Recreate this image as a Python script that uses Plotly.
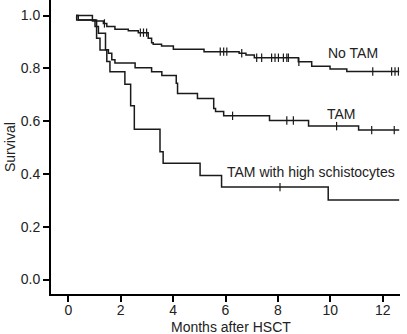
import plotly.graph_objects as go
import bisect

# ---- data ----
notam_t = [0.3, 0.92, 1.34, 1.47, 1.78, 2.29, 2.67, 3.05, 3.18, 3.24, 3.56, 4.01, 5.18, 6.52, 6.78, 7.10, 8.78, 9.29, 9.99, 10.63, 12.63]
notam_s = [1.0, 0.979, 0.970, 0.958, 0.948, 0.942, 0.935, 0.914, 0.897, 0.891, 0.884, 0.872, 0.863, 0.857, 0.850, 0.840, 0.825, 0.808, 0.797, 0.788, 0.788]
notam_cens = [1.38, 2.75, 2.87, 2.99, 5.80, 5.93, 6.05, 6.62, 7.19, 7.38, 7.76, 7.89, 8.02, 8.21, 8.34, 8.40, 8.80, 11.62, 12.34, 12.47, 12.60]

tam_t = [0.3, 0.32, 1.02, 1.15, 1.42, 1.53, 1.66, 1.78, 2.55, 3.18, 3.57, 4.12, 4.17, 4.93, 5.55, 5.62, 5.93, 7.68, 9.17, 11.08, 12.63]
tam_s = [1.0, 0.983, 0.958, 0.933, 0.870, 0.857, 0.832, 0.820, 0.802, 0.787, 0.773, 0.743, 0.705, 0.686, 0.648, 0.636, 0.620, 0.602, 0.581, 0.566, 0.566]
tam_cens = [6.27, 8.34, 8.59, 10.24, 11.58, 12.44]

schisto_t = [0.3, 0.38, 1.08, 1.21, 1.47, 1.59, 2.16, 2.38, 2.52, 3.50, 3.62, 5.03, 5.85, 9.92, 12.63]
schisto_s = [1.0, 0.983, 0.914, 0.869, 0.826, 0.787, 0.740, 0.658, 0.569, 0.484, 0.440, 0.394, 0.350, 0.301, 0.301]
schisto_cens = [8.08]

series = [
    ("No TAM", notam_t, notam_s, notam_cens),
    ("TAM", tam_t, tam_s, tam_cens),
    ("TAM with high schistocytes", schisto_t, schisto_s, schisto_cens),
]

x_ticks = [0, 2, 4, 6, 8, 10, 12]
y_ticks = [0.0, 0.2, 0.4, 0.6, 0.8, 1.0]

LINE = "#1a1a1a"
TXT = "#222"
FONT = "Liberation Sans, Arial, sans-serif"
PLOT_H = 294.0


def step_value(ts, ss, x):
    i = bisect.bisect_right(ts, x) - 1
    return ss[max(i, 0)]


fig = go.Figure()
for name, ts, ss, cens in series:
    fig.add_trace(go.Scatter(x=ts, y=ss, mode="lines", line_shape="hv",
                             line=dict(color=LINE, width=1.5), name=name,
                             showlegend=False, hoverinfo="skip"))
    fig.add_trace(go.Scatter(x=cens, y=[step_value(ts, ss, c) for c in cens],
                             mode="markers",
                             marker=dict(symbol="line-ns", size=6,
                                         line=dict(color=LINE, width=1.2)),
                             showlegend=False, hoverinfo="skip"))

fig.add_annotation(x=10.87, y=0.857, text="No TAM", showarrow=False,
                   font=dict(size=14, color=TXT))
fig.add_annotation(x=10.41, y=0.627, text="TAM", showarrow=False,
                   font=dict(size=14, color=TXT))
fig.add_annotation(x=5.98, y=0.408, text="TAM with high schistocytes",
                   showarrow=False, xanchor="left",
                   font=dict(size=14, color=TXT))

# axis titles as paper annotations (pixel placed)
fig.add_annotation(xref="paper", yref="paper", x=(231 - 51) / 349.0,
                   y=-(327 - 294) / PLOT_H, text="Months after HSCT",
                   showarrow=False, xanchor="center", yanchor="middle",
                   font=dict(size=14, color=TXT))
fig.add_annotation(xref="paper", yref="paper", x=-(51 - 10) / 349.0,
                   y=(294 - 147) / PLOT_H, text="Survival", textangle=-90,
                   showarrow=False, xanchor="center", yanchor="middle",
                   font=dict(size=14, color=TXT))

fig.update_layout(
    width=407, height=334,
    margin=dict(l=51, r=7, t=0, b=40, autoexpand=False),
    paper_bgcolor="white", plot_bgcolor="white",
    font=dict(family=FONT, size=14, color=TXT),
    xaxis=dict(range=[-0.66, 12.66], tickvals=x_ticks,
               ticktext=[str(v) for v in x_ticks], automargin=False,
               ticklabelstandoff=-4,
               showgrid=False, zeroline=False, showline=True,
               linecolor="black", linewidth=2, ticks="outside",
               ticklen=6, tickwidth=1.5, tickcolor="black"),
    yaxis=dict(range=[-0.0549, 1.0587], tickvals=y_ticks,
               ticktext=["%.1f" % v for v in y_ticks], automargin=False,
               showgrid=False, zeroline=False, showline=True,
               linecolor="black", linewidth=2, ticks="outside",
               ticklen=6, tickwidth=1.5, tickcolor="black"),
)

fig.write_html(
    "out.html",
    config={"displayModeBar": False},
    post_script="document.body.style.margin='0';document.body.style.overflow='hidden';",
)
